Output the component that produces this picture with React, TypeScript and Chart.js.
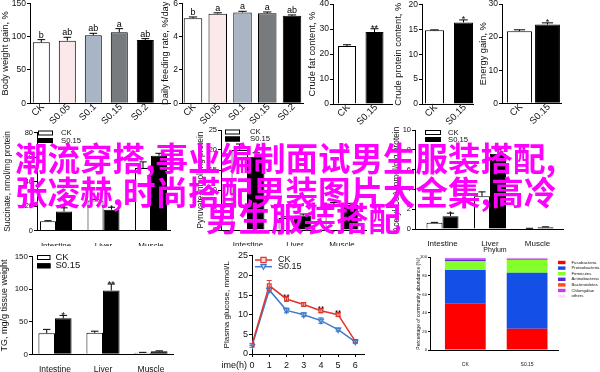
import React, { useEffect, useRef } from "react";
import { Chart, registerables } from "chart.js";

Chart.register(...registerables);

const FONT = '"Liberation Sans", Arial, Helvetica, sans-serif';

// ---------------- data ----------------
const dietGroups = ["CK", "S0.05", "S0.1", "S0.15", "S0.2"];
const dietColors = ["#ffffff", "#fbe8ea", "#a9b5c5", "#777b7e", "#000000"];
const bodyWeightGain = [91.5, 94, 102, 106.5, 95];
const bodyWeightGainErr = [4, 5, 3, 5.5, 2];
const bodyWeightGainSig = ["b", "ab", "ab", "a", "ab"];
const feedingRate = [5.1, 5.38, 5.45, 5.4, 5.25];
const feedingRateErr = [0.08, 0.05, 0.07, 0.08, 0.05];
const feedingRateSig = ["b", "a", "a", "a", "ab"];

const pairGroups = ["CK", "S0.15"];
const pairColors = ["#ffffff", "#000000"];
const crudeFat = [23.2, 28.8];
const crudeFatErr = [0.5, 1.3];
const crudeFatSig = ["", "**"];
const crudeProtein = [14.8, 16.4];
const crudeProteinErr = [0.1, 0.5];
const crudeProteinSig = ["", "*"];
const energyGain = [21.8, 23.8];
const energyGainErr = [0.4, 0.5];
const energyGainSig = ["", "*"];

const tissues = ["Intestine", "Liver", "Muscle"];
const succinateCK = [7.5, 24.5, 51];
const succinateCKErr = [0.5, 1, 5];
const succinateS = [15.5, 17, 61];
const succinateSErr = [3, 2, 2];
const succinateSig = ["*", "*", ""];

const pyruvateCK = [20, 3, 6.5];
const pyruvateCKErr = [1.5, 0.3, 0.4];
const pyruvateS = [18.3, 3.6, 6.25];
const pyruvateSErr = [1, 0.4, 0.4];
const pyruvateSig = ["", "", ""];

const acetylCK = [0.62, 3.3, 0.05];
const acetylCKErr = [0.05, 0.45, 0.02];
const acetylS = [1.3, 7.6, 0.18];
const acetylSErr = [0.3, 0.4, 0.04];
const acetylSig = ["*", "*", ""];

const tgCK = [32.3, 33, 2.5];
const tgCKErr = [6, 2.5, 0.5];
const tgS = [55.3, 98, 4.5];
const tgSErr = [4.5, 10, 0.8];
const tgSig = ["*", "**", ""];

const hours = [0, 1, 2, 3, 4, 5, 6];
const glucoseCK = [2.4, 17.4, 14, 12.6, 11, 10, 3.2];
const glucoseCKErr = [0.3, 1.3, 0.6, 0.5, 0.5, 0.5, 0.3];
const glucoseS = [2.0, 16.3, 11.1, 10.0, 8.5, 6.2, 3.1];
const glucoseSErr = [0.3, 0.6, 0.6, 0.5, 0.7, 0.4, 0.3];
const glucoseSig = ["", "", "**", "", "**", "**", ""];

const phyla = ["Fusobacteria", "Proteobacteria", "Firmicutes", "Actinobacteria", "Bacteroidetes", "Chlamydiae", "others"];
const phylaColors = ["#ff0000", "#1550e6", "#84ff2a", "#5a28d0", "#ff4a14", "#c83cf0", "#fbe3f8"];
const phylumCK = [50, 36.3, 9.7, 1.5, 0.3, 1.2, 1.0];
const phylumS = [23, 60.4, 13.6, 0.6, 0.2, 1.0, 1.2];

const watermarkLines = [
  "潮流穿搭,事业编制面试男生服装搭配,",
  "张凌赫,时尚搭配男装图片大全集,高冷",
  "男生服装搭配",
];

// ---------------- plugins ----------------
const errorBarPlugin = {
  id: "errorBars",
  afterDatasetsDraw(chart: any, _a: any, opts: any) {
    const ctx = chart.ctx;
    const yScale = chart.scales.y;
    chart.data.datasets.forEach((ds: any, di: number) => {
      if (!ds.errors && !ds.sig) return;
      const meta = chart.getDatasetMeta(di);
      meta.data.forEach((el: any, i: number) => {
        const v = meta._parsed[i].y;
        const e = ds.errors ? ds.errors[i] || 0 : 0;
        const x = el.x;
        const yTop = yScale.getPixelForValue(v + e);
        const yVal = yScale.getPixelForValue(v);
        const cap = el.width ? el.width * (opts.capRatio ?? 0.45) : opts.capWidth ?? 6;
        ctx.save();
        ctx.strokeStyle = ds.errorColor || "#000";
        ctx.lineWidth = 1;
        if (e > 0) {
          ctx.beginPath();
          const yStart = opts.both ? yScale.getPixelForValue(v - e) : yVal;
          ctx.moveTo(x, yStart);
          ctx.lineTo(x, yTop);
          ctx.moveTo(x - cap / 2, yTop);
          ctx.lineTo(x + cap / 2, yTop);
          if (opts.both) {
            ctx.moveTo(x - cap / 2, yStart);
            ctx.lineTo(x + cap / 2, yStart);
          }
          ctx.stroke();
        }
        const s = ds.sig ? ds.sig[i] : "";
        if (s) {
          ctx.fillStyle = "#000";
          ctx.font = `${opts.sigFont || 9}px ${FONT}`;
          ctx.textAlign = "center";
          ctx.textBaseline = "alphabetic";
          const star = s.indexOf("*") >= 0;
          ctx.fillText(s, x, yTop + (star ? 2.5 : -2));
        }
        ctx.restore();
      });
    });
  },
};

const rotatedLabelPlugin = {
  id: "rotLabels",
  afterDraw(chart: any, _a: any, opts: any) {
    if (!opts || !opts.labels) return;
    const xs = chart.scales.x;
    const ctx = chart.ctx;
    ctx.save();
    ctx.font = `${opts.fontSize}px ${FONT}`;
    ctx.fillStyle = "#111";
    ctx.textAlign = "right";
    ctx.textBaseline = "middle";
    for (let i = 0; i < opts.labels.length; i++) {
      const x = xs.getPixelForValue(i) + opts.dx;
      const y = xs.top + opts.dy;
      ctx.save();
      ctx.translate(x, y);
      ctx.rotate(-Math.PI / 4);
      ctx.fillText(opts.labels[i], 0, 0);
      ctx.restore();
    }
    ctx.restore();
  },
};

const legendPlugin = {
  id: "panelLegend",
  afterDraw(chart: any, _a: any, opts: any) {
    if (!opts || opts.x === undefined) return;
    const ctx = chart.ctx;
    ctx.save();
    ctx.font = `${opts.fontSize}px ${FONT}`;
    ctx.textBaseline = "middle";
    ctx.textAlign = "left";
    chart.data.datasets.forEach((ds: any, i: number) => {
      const x = opts.x;
      const y = opts.y + i * opts.rowH;
      if (opts.kind === "line") {
        ctx.strokeStyle = ds.borderColor;
        ctx.lineWidth = 1.5;
        ctx.beginPath();
        ctx.moveTo(x, y);
        ctx.lineTo(x + opts.boxW, y);
        ctx.stroke();
        const cx = x + opts.boxW / 2;
        const r = 2.6;
        ctx.fillStyle = ds.pointBackgroundColor;
        ctx.lineWidth = 1.2;
        ctx.beginPath();
        if (ds.pointStyle === "rect") {
          ctx.rect(cx - r, y - r, 2 * r, 2 * r);
        } else {
          ctx.moveTo(cx - r, y - r * 0.8);
          ctx.lineTo(cx + r, y - r * 0.8);
          ctx.lineTo(cx, y + r);
          ctx.closePath();
        }
        ctx.fill();
        ctx.stroke();
      } else {
        ctx.fillStyle = ds.backgroundColor;
        ctx.fillRect(x, y - opts.boxH / 2, opts.boxW, opts.boxH);
        if (opts.outline) {
          ctx.strokeStyle = "#000";
          ctx.lineWidth = 1;
          ctx.strokeRect(x + 0.5, y - opts.boxH / 2 + 0.5, opts.boxW - 1, opts.boxH - 1);
        }
      }
      ctx.fillStyle = "#111";
      ctx.fillText(ds.label, x + opts.boxW + opts.gap, y);
    });
    ctx.restore();
  },
};

const textPlugin = {
  id: "panelTexts",
  afterDraw(chart: any, _a: any, opts: any) {
    if (!opts || !opts.items) return;
    const ctx = chart.ctx;
    ctx.save();
    for (let i = 0; i < opts.items.length; i++) {
      const t = opts.items[i];
      ctx.font = `${t.size}px ${FONT}`;
      ctx.textAlign = t.align || "center";
      ctx.textBaseline = "middle";
      ctx.fillStyle = "#111";
      ctx.fillText(t.text, t.x, t.y);
    }
    ctx.restore();
  },
};

// ---------------- helpers ----------------
type Box = { L: number; T: number; W: number; H: number; aL: number; aT: number; aR: number; aB: number };

function baseOptions(b: Box) {
  return {
    responsive: false,
    maintainAspectRatio: false,
    animation: false,
    devicePixelRatio: 1,
    events: [],
    layout: { padding: { left: 0, top: b.aT - b.T, right: b.L + b.W - b.aR, bottom: 0 } },
  };
}

function yAxis(b: Box, max: number, step: number, title: string, tickFont: number, titleFont: number, tickLen = 3) {
  const yW = b.aL - b.L;
  return {
    type: "linear",
    min: 0,
    max,
    ticks: { stepSize: step, font: { size: tickFont, family: FONT }, color: "#111", padding: 1 },
    grid: { display: true, drawOnChartArea: false, drawTicks: true, tickLength: tickLen, color: "#000", lineWidth: 1 },
    border: { display: true, color: "#000", width: 1 },
    title: { display: true, text: title, font: { size: titleFont, family: FONT }, color: "#111", padding: 0 },
    afterFit: (s: any) => {
      s.width = yW;
      s.paddingTop = 0;
      s.paddingBottom = 0;
      s.paddingLeft = 0;
      s.paddingRight = 0;
    },
  };
}

function xAxis(b: Box, min: number, max: number, labels: string[] | null, fontSize: number, showTicks: boolean, pad: number, tickLen = 0) {
  const xH = b.T + b.H - b.aB;
  return {
    type: "linear",
    min,
    max,
    offset: false,
    ticks: {
      display: showTicks,
      stepSize: 1,
      includeBounds: false,
      autoSkip: false,
      maxRotation: 0,
      minRotation: 0,
      font: { size: fontSize, family: FONT },
      color: "#111",
      padding: pad,
      callback: (v: number) => (labels ? labels[v] ?? "" : String(v)),
    },
    grid: tickLen
      ? { display: true, drawOnChartArea: false, drawTicks: true, tickLength: tickLen, color: "#000", offset: false }
      : { display: false, offset: false },
    border: { display: true, color: "#000", width: 1 },
    afterFit: (s: any) => {
      s.height = xH;
      s.paddingLeft = 0;
      s.paddingRight = 0;
      s.paddingTop = 0;
      s.paddingBottom = 0;
    },
  };
}

function singleBarPanel(b: Box, p: any) {
  const o: any = baseOptions(b);
  o.scales = {
    x: xAxis(b, p.xMin, p.xMax, p.labels, 9.5, false, 2),
    y: yAxis(b, p.yMax, p.yStep, p.title, 8.5, 9.3),
  };
  o.plugins = {
    legend: { display: false },
    tooltip: { enabled: false },
    errorBars: { sigFont: 9, capRatio: 0.45 },
    rotLabels: { labels: p.labels, fontSize: 9.5, dx: 1.5, dy: 2 },
  };
  return {
    type: "bar",
    data: {
      datasets: [
        {
          label: p.title,
          data: p.values.map((v: number, i: number) => ({ x: i, y: v })),
          backgroundColor: p.colors,
          borderColor: "#000",
          borderWidth: 1,
          categoryPercentage: 1,
          barPercentage: p.barPct,
          errors: p.errors,
          sig: p.sig,
        },
      ],
    },
    options: o,
    plugins: [errorBarPlugin, rotatedLabelPlugin],
  };
}

function pairBarPanel(b: Box, p: any) {
  const o: any = baseOptions(b);
  o.scales = {
    x: xAxis(b, p.xMin, p.xMax, tissues, p.xFont, true, p.xPad),
    y: yAxis(b, p.yMax, p.yStep, p.title, p.tickFont, p.titleFont),
  };
  o.plugins = {
    legend: { display: false },
    tooltip: { enabled: false },
    errorBars: { sigFont: p.sigFont, capRatio: 0.45 },
    panelLegend: {
      x: p.legX - b.L,
      y: p.legY - b.T,
      rowH: p.legRow,
      boxW: p.legBoxW,
      boxH: 5,
      gap: p.legGap,
      fontSize: p.legFont,
      outline: true,
      kind: "box",
    },
  };
  const mk = (label: string, vals: number[], errs: number[], color: string, sig: string[] | null) => ({
    label,
    data: vals.map((v, i) => ({ x: i, y: v })),
    backgroundColor: color,
    borderColor: "#000",
    borderWidth: 1,
    categoryPercentage: p.catPct,
    barPercentage: 1,
    errors: errs,
    sig,
  });
  return {
    type: "bar",
    data: {
      datasets: [mk("CK", p.ck, p.ckErr, "#ffffff", null), mk("S0.15", p.s, p.sErr, "#000000", p.sig)],
    },
    options: o,
    plugins: [errorBarPlugin, legendPlugin],
  };
}

// ---------------- panels ----------------
const boxA: Box = { L: 0, T: -8, W: 172, H: 142, aL: 30, aT: 3.3, aR: 170, aB: 103.3 };
const boxB: Box = { L: 160, T: -8, W: 145, H: 142, aL: 182, aT: 3.3, aR: 303, aB: 103.3 };
const boxC: Box = { L: 307, T: -8, W: 87, H: 142, aL: 333, aT: 4, aR: 392, aB: 104 };
const boxD: Box = { L: 393, T: -8, W: 82, H: 142, aL: 422, aT: 4.5, aR: 473, aB: 104 };
const boxE: Box = { L: 478, T: -8, W: 88, H: 142, aL: 502, aT: 4, aR: 561, aB: 103.3 };
const boxF: Box = { L: 3, T: 120, W: 170, H: 126, aL: 37, aT: 132.5, aR: 170, aB: 230.5 };
const boxG: Box = { L: 196, T: 120, W: 172, H: 126, aL: 221, aT: 130, aR: 366, aB: 230 };
const boxH: Box = { L: 392, T: 120, W: 174, H: 126, aL: 415, aT: 130, aR: 563, aB: 229 };
const boxI: Box = { L: -1, T: 246, W: 176, H: 126, aL: 32, aT: 256.7, aR: 173, aB: 354.3 };
const boxJ: Box = { L: 222, T: 246, W: 148, H: 126, aL: 252, aT: 255.7, aR: 367, aB: 354 };
const boxK: Box = { L: 416, T: 244, W: 184, H: 128, aL: 430, aT: 257.3, aR: 558, aB: 350 };

function glucoseConfig(b: Box) {
  const o: any = baseOptions(b);
  o.scales = {
    x: xAxis(b, 0, 6.55, null, 9, true, 3, 3),
    y: yAxis(b, 25, 5, "Plasma glucose, mmol/L", 9, 8),
  };
  o.plugins = {
    legend: { display: false },
    tooltip: { enabled: false },
    errorBars: { sigFont: 8, both: true, capWidth: 5 },
    panelLegend: { x: 255 - b.L, y: 260 - b.T, rowH: 6.7, boxW: 17, boxH: 4, gap: 6, fontSize: 9, kind: "line" },
    panelTexts: { items: [{ text: "time(h)", x: 247 - b.L, y: 366 - b.T, size: 9, align: "right" }] },
  };
  const red = "#e0352d";
  const blue = "#3f7bcc";
  return {
    type: "line",
    data: {
      datasets: [
        {
          label: "CK",
          data: hours.map((h, i) => ({ x: h, y: glucoseCK[i] })),
          borderColor: red,
          backgroundColor: red,
          borderWidth: 1.5,
          pointStyle: "rect",
          pointRadius: 2.6,
          pointBorderWidth: 1.2,
          pointBorderColor: red,
          pointBackgroundColor: "#f6d4d2",
          errors: glucoseCKErr,
          errorColor: red,
          sig: glucoseSig,
        },
        {
          label: "S0.15",
          data: hours.map((h, i) => ({ x: h, y: glucoseS[i] })),
          borderColor: blue,
          backgroundColor: blue,
          borderWidth: 1.5,
          pointStyle: "triangle",
          pointRotation: 180,
          pointRadius: 3,
          pointBorderWidth: 1.2,
          pointBorderColor: blue,
          pointBackgroundColor: "#d5e3f5",
          errors: glucoseSErr,
          errorColor: blue,
        },
      ],
    },
    options: o,
    plugins: [errorBarPlugin, legendPlugin, textPlugin],
  };
}

function phylumConfig(b: Box) {
  const o: any = baseOptions(b);
  const x = xAxis(b, -0.572, 1.5, pairGroups, 5, true, 4);
  const y = yAxis(b, 100, 20, "Percentage of community abundance (%)", 4.2, 5, 2);
  (x as any).stacked = true;
  (y as any).stacked = true;
  o.scales = { x, y };
  o.plugins = {
    legend: { display: false },
    tooltip: { enabled: false },
    panelLegend: { x: 558 - b.L, y: 262.5 - b.T, rowH: 5.6, boxW: 7.5, boxH: 3.4, gap: 6, fontSize: 4.3, kind: "box" },
    panelTexts: { items: [{ text: "Phylum", x: 495 - b.L, y: 250 - b.T, size: 7 }] },
  };
  return {
    type: "bar",
    data: {
      datasets: phyla.map((name, p) => ({
        label: name,
        data: [
          { x: 0, y: phylumCK[p] },
          { x: 1, y: phylumS[p] },
        ],
        backgroundColor: phylaColors[p],
        borderWidth: 0,
        categoryPercentage: 1,
        barPercentage: 0.66,
      })),
    },
    options: o,
    plugins: [legendPlugin, textPlugin],
  };
}

const panels: { box: Box; build: () => any }[] = [
  {
    box: boxA,
    build: () =>
      singleBarPanel(boxA, {
        labels: dietGroups, values: bodyWeightGain, errors: bodyWeightGainErr, sig: bodyWeightGainSig, colors: dietColors,
        xMin: -0.435, xMax: 4.95, barPct: 0.654, yMax: 150, yStep: 50, title: "Body weight gain, %",
      }),
  },
  {
    box: boxB,
    build: () =>
      singleBarPanel(boxB, {
        labels: dietGroups, values: feedingRate, errors: feedingRateErr, sig: feedingRateSig, colors: dietColors,
        xMin: -0.444, xMax: 4.444, barPct: 0.747, yMax: 6, yStep: 2, title: "Daily feeding rate, %/day",
      }),
  },
  {
    box: boxC,
    build: () =>
      singleBarPanel(boxC, {
        labels: pairGroups, values: crudeFat, errors: crudeFatErr, sig: crudeFatSig, colors: pairColors,
        xMin: -0.509, xMax: 1.636, barPct: 0.655, yMax: 40, yStep: 10, title: "Crude fat content, %",
      }),
  },
  {
    box: boxD,
    build: () =>
      singleBarPanel(boxD, {
        labels: pairGroups, values: crudeProtein, errors: crudeProteinErr, sig: crudeProteinSig, colors: pairColors,
        xMin: -0.431, xMax: 1.328, barPct: 0.655, yMax: 20, yStep: 5, title: "Crude protein content, %",
      }),
  },
  {
    box: boxE,
    build: () =>
      singleBarPanel(boxE, {
        labels: pairGroups, values: energyGain, errors: energyGainErr, sig: energyGainSig, colors: pairColors,
        xMin: -0.625, xMax: 1.482, barPct: 0.89, yMax: 30, yStep: 10, title: "Energy gain, %",
      }),
  },
  {
    box: boxF,
    build: () =>
      pairBarPanel(boxF, {
        ck: succinateCK, ckErr: succinateCKErr, s: succinateS, sErr: succinateSErr, sig: succinateSig,
        xMin: -0.4, xMax: 2.4, catPct: 0.674, yMax: 80, yStep: 20, title: "Succinate, nmol/mg protein",
        tickFont: 7.5, titleFont: 8.3, xFont: 8, xPad: 2, sigFont: 8,
        legX: 38, legY: 133, legRow: 7.5, legBoxW: 15, legGap: 8, legFont: 7.7,
      }),
  },
  {
    box: boxG,
    build: () =>
      pairBarPanel(boxG, {
        ck: pyruvateCK, ckErr: pyruvateCKErr, s: pyruvateS, sErr: pyruvateSErr, sig: pyruvateSig,
        xMin: -0.574, xMax: 2.511, catPct: 0.7, yMax: 25, yStep: 5, title: "Pyruvate, nmol/mg protein",
        tickFont: 7.5, titleFont: 8.3, xFont: 8, xPad: 2, sigFont: 8,
        legX: 225, legY: 132, legRow: 7, legBoxW: 15, legGap: 10, legFont: 7.7,
      }),
  },
  {
    box: boxH,
    build: () =>
      pairBarPanel(boxH, {
        ck: acetylCK, ckErr: acetylCKErr, s: acetylS, sErr: acetylSErr, sig: acetylSig,
        xMin: -0.579, xMax: 2.537, catPct: 0.674, yMax: 10, yStep: 2, title: "Acetyl-CoA, nmol/mg protein",
        tickFont: 7.5, titleFont: 8.3, xFont: 8, xPad: 1.5, sigFont: 8,
        legX: 425, legY: 132.5, legRow: 7, legBoxW: 16, legGap: 7, legFont: 7.7,
      }),
  },
  {
    box: boxI,
    build: () =>
      pairBarPanel(boxI, {
        ck: tgCK, ckErr: tgCKErr, s: tgS, sErr: tgSErr, sig: tgSig,
        xMin: -0.479, xMax: 2.458, catPct: 0.69, yMax: 150, yStep: 50, title: "TG, mg/g tissue weight",
        tickFont: 8, titleFont: 9, xFont: 8.5, xPad: 2, sigFont: 9,
        legX: 37, legY: 257.5, legRow: 8.3, legBoxW: 13.5, legGap: 5, legFont: 9.5,
      }),
  },
  { box: boxJ, build: () => glucoseConfig(boxJ) },
  { box: boxK, build: () => phylumConfig(boxK) },
];

function ChartPanel({ box, build }: { box: Box; build: () => any }) {
  const ref = useRef<HTMLCanvasElement>(null);
  useEffect(() => {
    const chart = new Chart(ref.current as HTMLCanvasElement, build());
    return () => chart.destroy();
  }, [build]);
  return (
    <canvas
      ref={ref}
      width={box.W}
      height={box.H}
      style={{ position: "absolute", left: box.L, top: box.T, width: box.W, height: box.H }}
    />
  );
}

const watermarkPos = [
  { left: 15, top: 141 },
  { left: 15, top: 175 },
  { left: 206, top: 201 },
];

export default function App() {
  return (
    <div
      style={{
        position: "fixed",
        left: 0,
        top: 0,
        width: 600,
        height: 372,
        overflow: "hidden",
        background: "#ffffff",
      }}
    >
      {panels.map((p, i) => (
        <ChartPanel key={i} box={p.box} build={p.build} />
      ))}
      {watermarkLines.map((line, i) => (
        <div
          key={"w" + i}
          style={{
            position: "absolute",
            left: watermarkPos[i].left,
            top: watermarkPos[i].top,
            fontFamily: '"Noto Sans CJK SC", sans-serif',
            fontWeight: 700,
            fontSize: 32.5,
            lineHeight: "32px",
            color: "#ff00ff",
            whiteSpace: "nowrap",
          }}
        >
          {line}
        </div>
      ))}
    </div>
  );
}
